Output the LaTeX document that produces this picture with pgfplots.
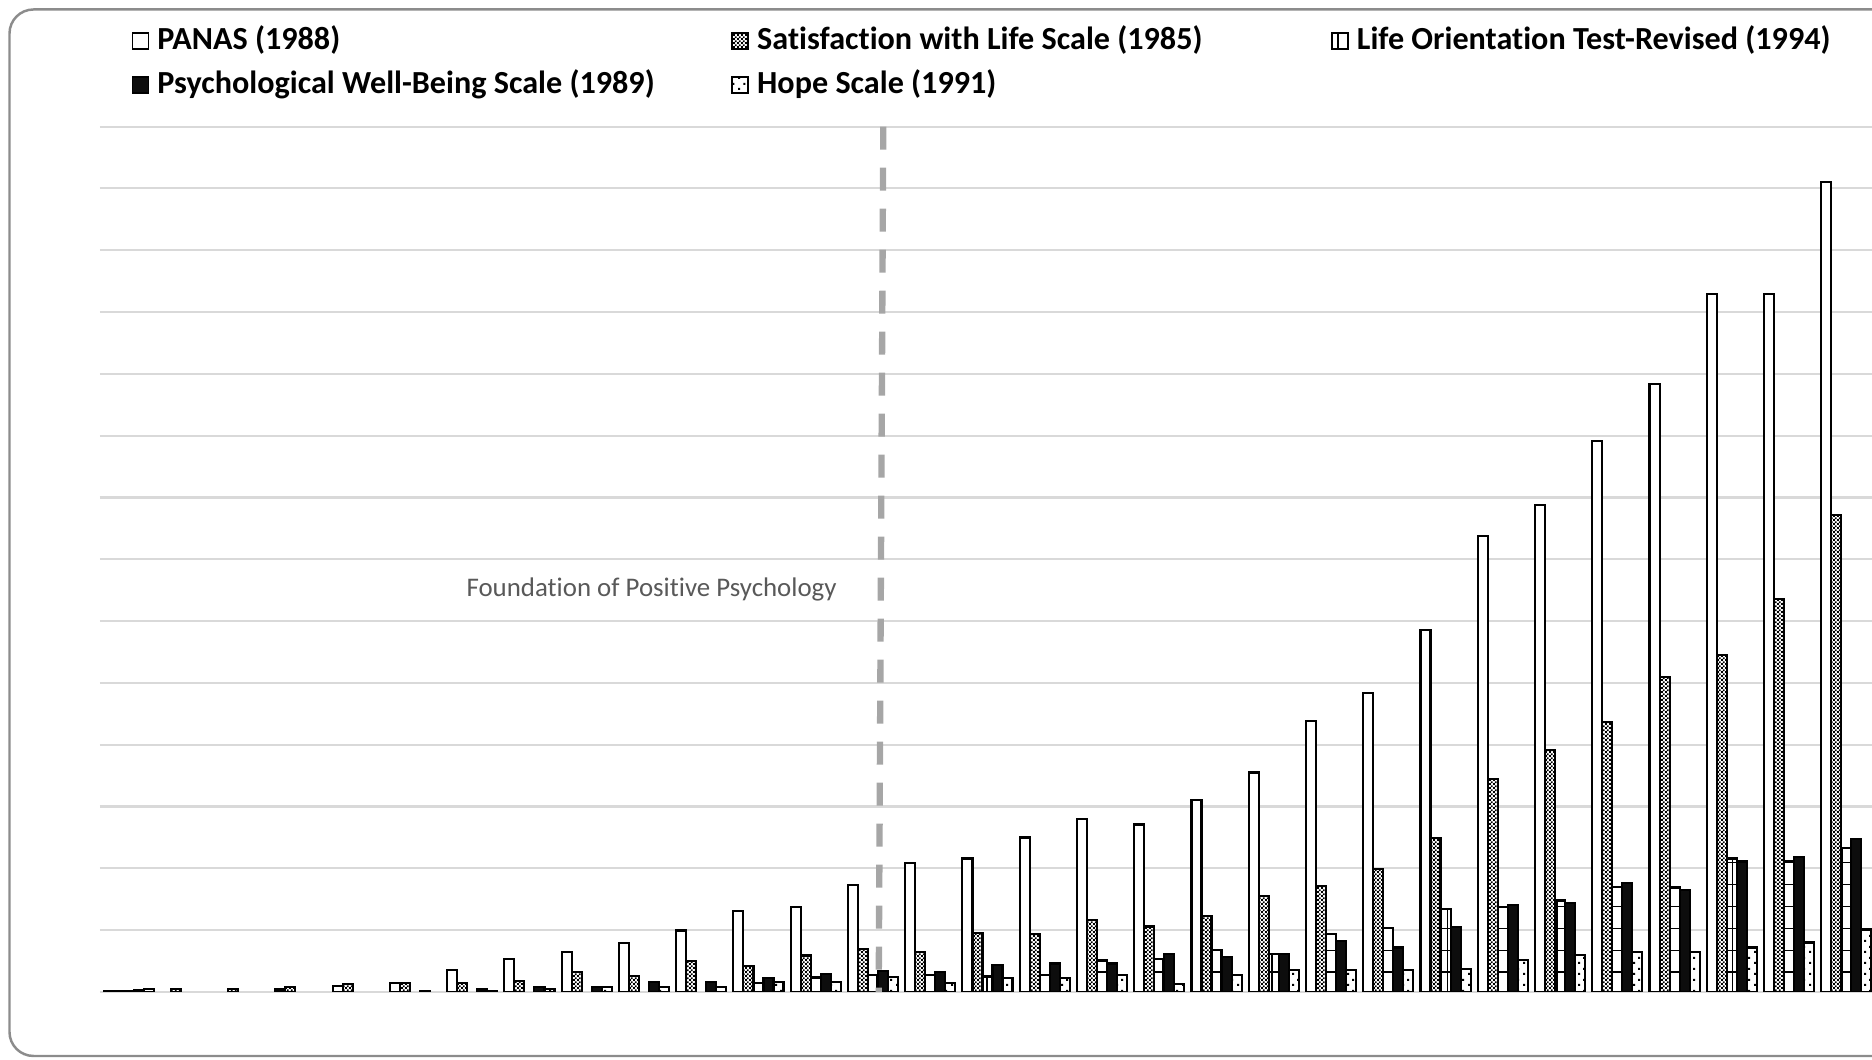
\documentclass[border=0pt]{standalone}
\usepackage{fontspec}
\setmainfont{Carlito}[Ligatures=NoCommon]
\usepackage{pgfplots}
\usepackage{pgfplotstable}
\pgfplotsset{compat=1.18}
\usetikzlibrary{patterns,patterns.meta}

\definecolor{gridgray}{RGB}{217,217,217}
\definecolor{framegray}{RGB}{140,140,140}
\definecolor{dashgray}{RGB}{166,166,166}
\definecolor{notegray}{RGB}{89,89,89}

\tikzdeclarepattern{
  name=swlscheck,
  bottom left={(0pt,0pt)},
  top right={(1.2pt,1.2pt)},
  tile size={(1.2pt,1.2pt)},
  code={
    \pgfpathrectangle{\pgfpointorigin}{\pgfqpoint{0.6pt}{0.6pt}}
    \pgfpathrectangle{\pgfqpoint{0.6pt}{0.6pt}}{\pgfqpoint{0.6pt}{0.6pt}}
    \pgfusepath{fill}
  }
}
\tikzdeclarepattern{
  name=lotgrid,
  bottom left={(-0.3pt,-0.3pt)},
  top right={(6.54pt,6.54pt)},
  tile size={(6.24pt,6.24pt)},
  code={
    \pgfsetlinewidth{0.45pt}
    \pgfpathmoveto{\pgfqpoint{-0.3pt}{0pt}}\pgfpathlineto{\pgfqpoint{6.54pt}{0pt}}
    \pgfpathmoveto{\pgfqpoint{0pt}{-0.3pt}}\pgfpathlineto{\pgfqpoint{0pt}{6.54pt}}
    \pgfusepath{stroke}
  }
}
\tikzdeclarepattern{
  name=hopedots,
  bottom left={(0pt,0pt)},
  top right={(3pt,3pt)},
  tile size={(3pt,3pt)},
  code={
    \pgfpathrectangle{\pgfpointorigin}{\pgfqpoint{0.6pt}{0.6pt}}
    \pgfpathrectangle{\pgfqpoint{1.5pt}{1.5pt}}{\pgfqpoint{0.6pt}{0.6pt}}
    \pgfusepath{fill}
  }
}

\pgfplotstableread{
x panas swls lot pwb hope
0 0.1 0.15 0.2 0.3 0.5
1 nan 0.5 nan nan nan
2 nan 0.5 nan nan nan
3 0.4 0.8 nan nan nan
4 1.0 1.3 nan nan nan
5 1.4 1.5 nan 0.2 nan
6 3.6 1.5 nan 0.4 0.2
7 5.35 1.8 nan 0.8 0.5
8 6.45 3.2 nan 0.75 0.75
9 7.9 2.6 nan 1.55 0.8
10 9.95 5.05 nan 1.55 0.8
11 13.1 4.15 1.45 2.2 1.6
12 13.7 5.9 2.35 2.95 1.6
13 17.3 6.9 2.7 3.4 2.4
14 20.8 6.5 2.8 3.2 1.5
15 21.6 9.5 2.5 4.4 2.2
16 25.0 9.4 2.8 4.6 2.2
17 28.0 11.6 5.1 4.6 2.8
18 27.1 10.6 5.3 6.1 1.35
19 31.1 12.3 6.8 5.7 2.8
20 35.5 15.5 6.1 6.1 3.55
21 43.8 17.2 9.4 8.2 3.6
22 48.3 19.9 10.3 7.2 3.6
23 58.6 24.9 13.4 10.5 3.7
24 73.7 34.4 13.7 14.0 5.2
25 78.8 39.2 14.8 14.4 6.0
26 89.2 43.7 17.0 17.7 6.4
27 98.3 50.9 16.9 16.5 6.4
28 112.9 54.5 21.6 21.1 7.2
29 112.9 63.6 21.1 21.9 8.0
30 131.0 77.2 23.3 24.8 10.1
}\data

\begin{document}
\begin{tikzpicture}
\useasboundingbox (0,0) rectangle (18.72cm,10.6cm);
\clip (0,0) rectangle (18.72cm,10.6cm);
\draw[framegray, line width=0.7pt, rounded corners=2.4mm] (0.095cm,0.04cm) rectangle (19.5cm,10.505cm);
\begin{axis}[
  at={(1.0cm,0.68cm)}, anchor=south west,
  scale only axis, width=17.75cm, height=8.654cm,
  xmin=-0.5, xmax=30.5, ymin=0, ymax=140,
  ybar, bar width=0.175,
  xtick=\empty, ytick={0,10,...,140}, yticklabels={},
  major tick length=0pt,
  ymajorgrids, grid style={gridgray, line width=0.6pt},
  axis line style={draw=none},
  every axis plot/.append style={draw=black, line width=0.6pt},
  legend columns=3,
  legend cell align=left,
  legend image code/.code={\draw[#1, line width=0.5pt] (0cm,-0.08cm) rectangle (0.16cm,0.08cm);},
  legend style={
    at={(axis description cs:0.01786,1.11464)}, anchor=north west,
    draw=none, fill=none, inner sep=0pt, outer sep=0pt,
    column sep=0pt, row sep=1.6mm,
    font=\fontsize{9.15}{11}\selectfont\bfseries,
    nodes={inner sep=0pt, text height=2.2mm, text depth=0.6mm},
  },
]
\addplot[fill=white, bar shift=-0.35] table[x=x,y=panas]{\data};
\addlegendentry{\makebox[58.2mm][l]{\hspace{0.8mm}PANAS (1988)}}
\addplot[fill=white, postaction={pattern=swlscheck}, bar shift=-0.175] table[x=x,y=swls]{\data};
\addlegendentry{\makebox[58.2mm][l]{\hspace{0.8mm}Satisfaction with Life Scale (1985)}}
\addplot[fill=white, postaction={pattern=lotgrid}, bar shift=0] table[x=x,y=lot]{\data};
\addlegendentry{\hspace{0.8mm}Life Orientation Test-Revised (1994)}
\addplot[fill=black!95, bar shift=0.175] table[x=x,y=pwb]{\data};
\addlegendentry{\makebox[58.2mm][l]{\hspace{0.8mm}Psychological Well-Being Scale (1989)}}
\addplot[fill=white, postaction={pattern=hopedots}, bar shift=0.35] table[x=x,y=hope]{\data};
\addlegendentry{\makebox[58.2mm][l]{\hspace{0.8mm}Hope Scale (1991)}}
\draw[dashgray, line width=1.8pt, dash pattern=on 2.3mm off 1.8mm] (axis cs:13.18,140) -- (axis cs:13.10,0);
\node[anchor=base west, font=\fontsize{7.65}{9}\selectfont, text=notegray, inner sep=0pt] at (axis cs:5.89,63.9) {Foundation of Positive Psychology};
\end{axis}
\end{tikzpicture}
\end{document}
